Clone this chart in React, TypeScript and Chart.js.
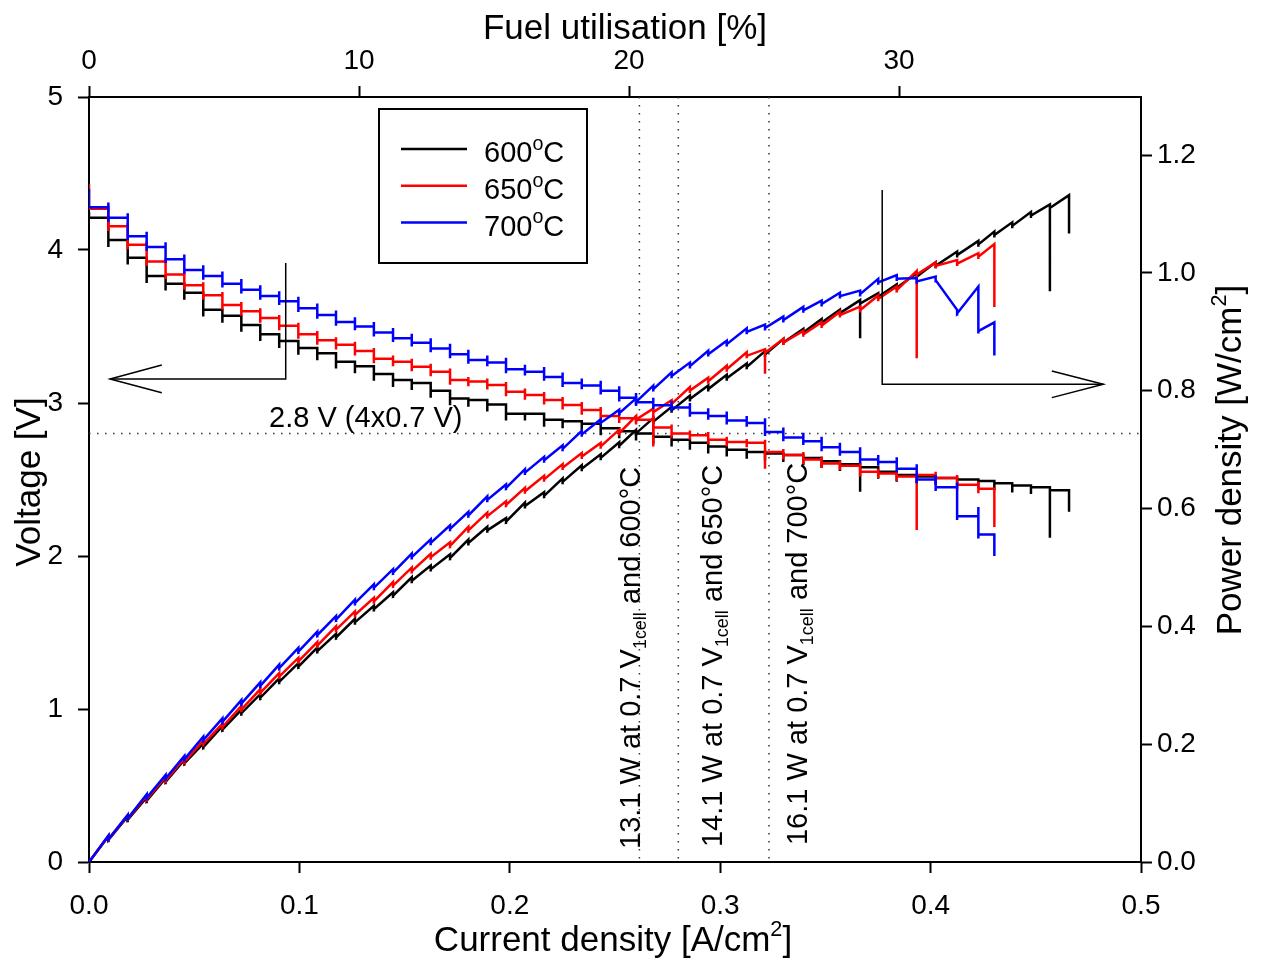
import React, { useEffect, useRef } from 'react';
import { Chart, registerables } from 'chart.js';

Chart.register(...registerables);

const FAMILY = "'Liberation Sans', Arial, Helvetica, sans-serif";

// ---------------- data ----------------
// current density of each load step [A/cm2]
const stepCurrent = [
  0.0092, 0.0184, 0.0274, 0.0364, 0.0453, 0.0543, 0.0634, 0.0724, 0.0814, 0.0904,
  0.0995, 0.1085, 0.1174, 0.1264, 0.1354, 0.1445, 0.1534, 0.1624, 0.1716, 0.1803,
  0.1893, 0.1982, 0.2072, 0.2163, 0.2251, 0.2342, 0.2432, 0.2520, 0.2600, 0.2682,
  0.2769, 0.2856, 0.2943, 0.3031, 0.3126, 0.3213, 0.3300, 0.3395, 0.3482, 0.3569,
  0.3665, 0.3751, 0.3839, 0.3934, 0.4024, 0.4126, 0.4227, 0.4303, 0.4388, 0.4477,
  0.4567, 0.4658,
];

// 600 °C : stack voltage plateau after each step [V]
const v600Open = 4.25;
const v600Levels = [
  4.21, 4.065, 3.95, 3.83, 3.78, 3.72, 3.61, 3.57, 3.51, 3.45,
  3.405, 3.36, 3.325, 3.27, 3.24, 3.19, 3.15, 3.13, 3.08, 3.03,
  3.02, 2.99, 2.93, 2.93, 2.89, 2.88, 2.865, 2.835, 2.815, 2.80,
  2.78, 2.76, 2.74, 2.715, 2.695, 2.68, 2.67, 2.66, 2.64, 2.62,
  2.60, 2.58, 2.55, 2.53, 2.52, 2.51, 2.50, 2.49, 2.475, 2.46,
  2.45, 2.43,
];
const v600End = 2.29;
const spike600Steps = [41, 51];
const v600SpikeValues = [2.42, 2.12];
// 600 °C : power density after each step [W/cm2]
const p600Steps = [
  0.0374, 0.0715, 0.1038, 0.1361, 0.1674, 0.1949, 0.2246, 0.2524, 0.2788, 0.3058,
  0.3316, 0.3581, 0.3813, 0.4069, 0.4291, 0.4520, 0.4773, 0.4971, 0.5163, 0.5415,
  0.5630, 0.5778, 0.6042, 0.6216, 0.6454, 0.6675, 0.6861, 0.7066, 0.7277, 0.7475,
  0.7667, 0.7858, 0.8028, 0.8212, 0.8404, 0.8613, 0.8818, 0.8989, 0.9157, 0.9318,
  0.9479, 0.9596, 0.9748, 0.9934, 1.0120, 1.0303, 1.0485, 1.0643, 1.0799, 1.0974,
  1.1103,
];
const p600End = [1.132, 1.067];
const p600SpikeValues = [0.889, 0.969];

// 650 °C
const v650Open = 4.43;
const v650Levels = [
  4.27, 4.155, 4.035, 3.925, 3.84, 3.77, 3.705, 3.64, 3.60, 3.555,
  3.505, 3.45, 3.41, 3.38, 3.34, 3.29, 3.27, 3.237, 3.205, 3.15,
  3.14, 3.118, 3.074, 3.052, 3.02, 2.987, 2.954, 2.915, 2.90, 2.89,
  2.84, 2.80, 2.79, 2.76, 2.745, 2.74, 2.68, 2.66, 2.63, 2.605,
  2.59, 2.55, 2.54, 2.52, 2.53, 2.51, 2.465, 2.44,
];
const v650End = 2.19;
const spike650Steps = [30, 36, 44];
const v650SpikeValues = [2.715, 2.57, 2.17];
const p650Steps = [
  0.0382, 0.0730, 0.1064, 0.1382, 0.1697, 0.2001, 0.2290, 0.2588, 0.2872, 0.3147,
  0.3405, 0.3673, 0.3941, 0.4195, 0.4425, 0.4692, 0.4936, 0.5173, 0.5368, 0.5630,
  0.5871, 0.6062, 0.6293, 0.6496, 0.6694, 0.6883, 0.7054, 0.7279, 0.7511, 0.7637,
  0.7778, 0.8002, 0.8161, 0.8364, 0.8593, 0.8646, 0.8818, 0.8955, 0.9104, 0.9283,
  0.9369, 0.9558, 0.9710, 0.9973, 1.0120, 1.0158, 1.0275,
];
const p650End = [1.049, 0.942];
const p650SpikeValues = [0.730, 0.829, 0.855];

// 700 °C
const v700Open = 4.40;
const v700Levels = [
  4.28, 4.21, 4.09, 4.02, 3.94, 3.87, 3.83, 3.78, 3.74, 3.70,
  3.665, 3.62, 3.575, 3.53, 3.50, 3.46, 3.423, 3.394, 3.357, 3.318,
  3.281, 3.265, 3.22, 3.205, 3.17, 3.13, 3.115, 3.08, 3.035, 3.005,
  2.985, 2.97, 2.935, 2.915, 2.885, 2.87, 2.81, 2.775, 2.75, 2.71,
  2.68, 2.63, 2.615, 2.57, 2.50, 2.45, 2.26, 2.14,
];
const v700End = 2.0;
const spike700Steps = [47];
const v700SpikeValues = [2.32];
const p700Steps = [
  0.0387, 0.0740, 0.1089, 0.1418, 0.1742, 0.2068, 0.2378, 0.2689, 0.2990, 0.3291,
  0.3573, 0.3850, 0.4116, 0.4396, 0.4654, 0.4912, 0.5176, 0.5418, 0.5654, 0.5883,
  0.6148, 0.6350, 0.6609, 0.6819, 0.7014, 0.7258, 0.7454, 0.7618, 0.7810, 0.8027,
  0.8251, 0.8418, 0.8620, 0.8791, 0.9000, 0.9065, 0.9199, 0.9364, 0.9471, 0.9605,
  0.9640, 0.9840, 0.9902, 0.9855, 0.9878, 0.9313, 0.9012,
];
const p700End = [0.916, 0.860];
const p700SpikeValues = [0.977];

const temperatureLabels = ['600', '650', '700'];
const temperatureColors = ['#000000', '#ff0000', '#0000ff'];

// axis ticks
const currentTicks = [0, 0.1, 0.2, 0.3, 0.4, 0.5];
const voltageTicks = [0, 1, 2, 3, 4, 5];
const powerTicks = [0, 0.2, 0.4, 0.6, 0.8, 1.0, 1.2];
const fuelTicks = [0, 10, 20, 30];
const fuelAtAxisEnd = 38.96; // fuel utilisation [%] at 0.5 A/cm2
const powerAxisMax = 1.2987;

// guide lines / annotations (data units)
const guideVoltage = 2.8;
const guideCurrents = [0.2616, 0.2801, 0.3232];
const noteAnchorCurrent = [0.2619, 0.3007, 0.3411];
const noteAnchorVoltage = [0.085, 0.098, 0.111];
const notePower = ['13.1', '14.1', '16.1'];
const leftArrowCurrent = [0.0935, 0.0935, 0.0100];
const leftArrowVoltage = [3.915, 3.157, 3.157];
const leftHeadCurrent = [0.0346, 0.0100, 0.0346];
const leftHeadVoltage = [3.248, 3.157, 3.067];
const rightArrowCurrent = [0.3770, 0.3770, 0.4821];
const rightArrowVoltage = [4.392, 3.122, 3.122];
const rightHeadCurrent = [0.4576, 0.4821, 0.4576];
const rightHeadVoltage = [3.209, 3.122, 3.035];
const guideLabelCurrent = 0.0856;
const guideLabelVoltage = 2.84;

// ---------------- helpers ----------------
type Pt = { x: number; y: number };

function voltagePath(open: number, levels: number[], end: number, spikeSteps: number[], spikeVals: number[], over: number, under: number): Pt[] {
  const pts: Pt[] = [{ x: 0, y: open }, { x: 0, y: levels[0] }];
  for (let k = 1; k < levels.length; k++) {
    const i = stepCurrent[k - 1];
    const prev = levels[k - 1];
    const cur = levels[k];
    let top = prev + over;
    let bot = cur - under;
    const si = spikeSteps.indexOf(k);
    if (si >= 0) {
      const s = spikeVals[si];
      if (s > prev) top = s; else bot = Math.min(bot, s);
    }
    pts.push({ x: i, y: prev }, { x: i, y: top }, { x: i, y: bot }, { x: i, y: cur });
  }
  const iEnd = stepCurrent[levels.length - 1];
  pts.push({ x: iEnd, y: levels[levels.length - 1] }, { x: iEnd, y: end });
  return pts;
}

function powerPath(steps: number[], end: number[], spikeSteps: number[], spikeVals: number[], over: number, under: number): Pt[] {
  const pts: Pt[] = [{ x: 0, y: 0 }];
  for (let k = 1; k <= steps.length; k++) {
    const i = stepCurrent[k - 1];
    const p = steps[k - 1];
    let top = p + over;
    let bot = p - under;
    const si = spikeSteps.indexOf(k);
    if (si >= 0) {
      const s = spikeVals[si];
      if (s > p) top = s; else bot = Math.min(bot, s);
    }
    pts.push({ x: i, y: top }, { x: i, y: bot }, { x: i, y: p });
  }
  const iEnd = stepCurrent[steps.length];
  pts.push({ x: iEnd, y: end[0] }, { x: iEnd, y: end[1] });
  return pts;
}

type Seg = { t: string; k?: 'sup' | 'sub' };

function drawRich(ctx: CanvasRenderingContext2D, segs: Seg[], x: number, y: number, size: number, align: 'left' | 'center', rot: number, supScale = 0.62) {
  ctx.save();
  ctx.translate(x, y);
  ctx.rotate(rot);
  ctx.textBaseline = 'alphabetic';
  ctx.textAlign = 'left';
  ctx.fillStyle = '#000';
  const small = size * supScale;
  const widths = segs.map((s) => {
    ctx.font = `${s.k ? small : size}px ${FAMILY}`;
    return ctx.measureText(s.t).width;
  });
  const total = widths.reduce((a, b) => a + b, 0);
  let cx = align === 'center' ? -total / 2 : 0;
  segs.forEach((s, idx) => {
    ctx.font = `${s.k ? small : size}px ${FAMILY}`;
    const dy = s.k === 'sup' ? -size * 0.42 : s.k === 'sub' ? size * 0.22 : 0;
    ctx.fillText(s.t, cx, dy);
    cx += widths[idx];
  });
  ctx.restore();
}

const figurePlugin = {
  id: 'figureExtras',
  beforeDatasetsDraw(chart: any) {
    const { ctx, chartArea: a, scales } = chart;
    const sx = scales.x;
    const sy = scales.y;
    ctx.save();
    ctx.strokeStyle = '#333';
    ctx.lineWidth = 1.5;
    ctx.setLineDash([1.5, 6.5]);
    const yg = sy.getPixelForValue(guideVoltage);
    ctx.beginPath();
    ctx.moveTo(a.left, yg);
    ctx.lineTo(a.right, yg);
    ctx.stroke();
    guideCurrents.forEach((c) => {
      const xg = sx.getPixelForValue(c);
      ctx.beginPath();
      ctx.moveTo(xg, a.top);
      ctx.lineTo(xg, a.bottom);
      ctx.stroke();
    });
    ctx.restore();
  },
  afterDatasetsDraw(chart: any) {
    const { ctx, chartArea: a, scales } = chart;
    const sx = scales.x;
    const sy = scales.y;
    // arrows
    const poly = (cs: number[], vs: number[]) => {
      ctx.beginPath();
      cs.forEach((c, i) => {
        const px = sx.getPixelForValue(c);
        const py = sy.getPixelForValue(vs[i]);
        if (i === 0) ctx.moveTo(px, py); else ctx.lineTo(px, py);
      });
      ctx.stroke();
    };
    ctx.save();
    ctx.strokeStyle = '#000';
    ctx.lineWidth = 1.5;
    poly(leftArrowCurrent, leftArrowVoltage);
    poly(leftHeadCurrent, leftHeadVoltage);
    poly(rightArrowCurrent, rightArrowVoltage);
    poly(rightHeadCurrent, rightHeadVoltage);
    ctx.restore();

    // guide label
    drawRich(ctx, [{ t: '2.8 V (4x0.7 V)' }], sx.getPixelForValue(guideLabelCurrent), sy.getPixelForValue(guideLabelVoltage), 29, 'left', 0);

    // rotated notes
    notePower.forEach((p, i) => {
      drawRich(
        ctx,
        [{ t: `${p} W at 0.7 V` }, { t: '1cell', k: 'sub' }, { t: ` and ${temperatureLabels[i]}°C` }],
        sx.getPixelForValue(noteAnchorCurrent[i]),
        sy.getPixelForValue(noteAnchorVoltage[i]),
        29,
        'left',
        -Math.PI / 2,
      );
    });

    // legend box
    const lx = a.left + 290;
    const ly = a.top + 12;
    ctx.save();
    ctx.fillStyle = '#fff';
    ctx.fillRect(lx, ly, 208, 154);
    ctx.strokeStyle = '#000';
    ctx.lineWidth = 2;
    ctx.strokeRect(lx, ly, 208, 154);
    temperatureLabels.forEach((t, i) => {
      const yy = ly + 40 + i * 36.8;
      ctx.strokeStyle = temperatureColors[i];
      ctx.lineWidth = 2.5;
      ctx.beginPath();
      ctx.moveTo(lx + 22, yy);
      ctx.lineTo(lx + 88, yy);
      ctx.stroke();
      drawRich(ctx, [{ t: t }, { t: 'o', k: 'sup' }, { t: 'C' }], lx + 105, yy + 13, 29, 'left', 0, 0.68);
    });
    ctx.restore();
  },
  afterDraw(chart: any) {
    const { ctx } = chart;
    drawRich(ctx, [{ t: 'Current density [A/cm' }, { t: '2', k: 'sup' }, { t: ']' }], 613, 951, 35, 'center', 0);
    drawRich(ctx, [{ t: 'Fuel utilisation [%]' }], 625, 39, 35, 'center', 0);
    drawRich(ctx, [{ t: 'Voltage [V]' }], 40, 482, 35, 'center', -Math.PI / 2);
    drawRich(ctx, [{ t: 'Power density [W/cm' }, { t: '2', k: 'sup' }, { t: ']' }], 1241, 460, 35, 'center', -Math.PI / 2);
  },
};

function axisCommon(fixTicks: number[], fmt: (v: number) => string, pad: number) {
  return {
    ticks: {
      padding: pad,
      color: '#000',
      font: { size: 28, family: FAMILY },
      autoSkip: false,
      maxRotation: 0,
      callback: (v: any) => fmt(Number(v)),
    },
    afterBuildTicks: (s: any) => {
      s.ticks = fixTicks.map((v) => ({ value: v }));
    },
    grid: { display: true, drawOnChartArea: false, drawTicks: true, tickLength: 11, tickWidth: 2, color: '#000', tickColor: '#000' },
    border: { display: true, color: '#000', width: 2 },
  };
}

export default function App() {
  const ref = useRef<HTMLCanvasElement>(null);

  useEffect(() => {
    if (!ref.current) return;
    const voltageOver = [0.0, 0.02, 0.03];
    const voltageUnder = [0.045, 0.03, 0.025];
    const vSeries = [
      voltagePath(v600Open, v600Levels, v600End, spike600Steps, v600SpikeValues, voltageOver[0], voltageUnder[0]),
      voltagePath(v650Open, v650Levels, v650End, spike650Steps, v650SpikeValues, voltageOver[1], voltageUnder[1]),
      voltagePath(v700Open, v700Levels, v700End, spike700Steps, v700SpikeValues, voltageOver[2], voltageUnder[2]),
    ];
    const pSeries = [
      powerPath(p600Steps, p600End, spike600Steps, p600SpikeValues, 0.006, 0.004),
      powerPath(p650Steps, p650End, spike650Steps, p650SpikeValues, 0.006, 0.004),
      powerPath(p700Steps, p700End, spike700Steps, p700SpikeValues, 0.006, 0.004),
    ];
    const datasets: any[] = [];
    temperatureLabels.forEach((t, i) => {
      const base = {
        borderColor: temperatureColors[i],
        backgroundColor: temperatureColors[i],
        borderWidth: 2.5,
        pointRadius: 0,
        pointHoverRadius: 0,
        fill: false,
        tension: 0,
        order: 2 - i,
        xAxisID: 'x',
      };
      datasets.push({ ...base, label: `${t}°C voltage`, data: vSeries[i], yAxisID: 'y' });
      datasets.push({ ...base, label: `${t}°C power`, data: pSeries[i], yAxisID: 'y2' });
    });

    const chart = new Chart(ref.current, {
      type: 'line',
      data: { datasets },
      options: {
        responsive: false,
        devicePixelRatio: 1,
        animation: false,
        events: [],
        layout: { padding: 0 },
        plugins: { legend: { display: false }, tooltip: { enabled: false } },
        scales: {
          x: {
            type: 'linear', position: 'bottom', min: 0, max: 0.5,
            ...axisCommon(currentTicks, (v) => v.toFixed(1), 16),
            afterFit: (s: any) => { s.height = 101; },
          },
          x2: {
            type: 'linear', position: 'top', min: 0, max: fuelAtAxisEnd,
            ...axisCommon(fuelTicks, (v) => String(Math.round(v)), 8),
            afterFit: (s: any) => { s.height = 97; },
          },
          y: {
            type: 'linear', position: 'left', min: 0, max: 5,
            ...axisCommon(voltageTicks, (v) => String(Math.round(v)), 15),
            afterFit: (s: any) => { s.width = 89; },
          },
          y2: {
            type: 'linear', position: 'right', min: 0, max: powerAxisMax,
            ...axisCommon(powerTicks, (v) => v.toFixed(1), 5),
            afterFit: (s: any) => { s.width = 123; },
          },
        } as any,
      },
      plugins: [figurePlugin as any],
    });
    return () => chart.destroy();
  }, []);

  return (
    <div style={{ position: 'absolute', left: 0, top: 0, width: 1264, height: 963, background: '#fff' }}>
      <canvas ref={ref} width={1264} height={963} style={{ display: 'block', width: 1264, height: 963 }} />
    </div>
  );
}
